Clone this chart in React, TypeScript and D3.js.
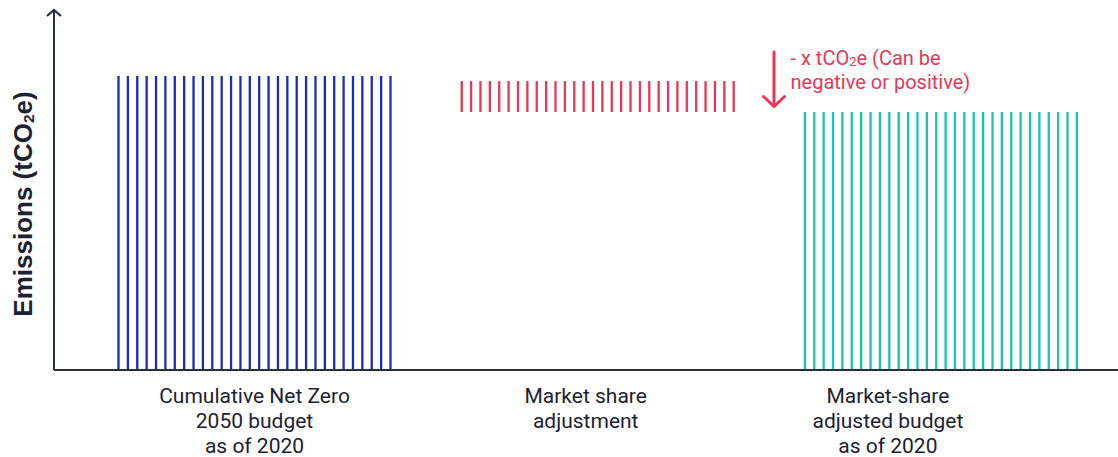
import React, { useEffect } from "react";
import * as d3 from "d3";

// ---- data ----
const categories = [
  "Cumulative Net Zero 2050 budget as of 2020",
  "Market share adjustment",
  "Market-share adjusted budget as of 2020",
];
const categoryLabelLines = [
  ["Cumulative Net Zero", "2050 budget", "as of 2020"],
  ["Market share", "adjustment"],
  ["Market-share", "adjusted budget", "as of 2020"],
];
const barBase = [0, 86, 0];
const barTop = [98, 96.3, 86];
const yAxisTitle = ["Emissions (tCO", "2", "e)"];
const annotationLine1 = ["- x tCO", "2", "e (Can be"];
const annotationLine2 = "negative or positive)";

// ---- style ----
const W = 1118;
const H = 457;
const barColors = ["#1f2bb0", "#e8375a", "#1cc4aa"];
const axisColor = "#2b3040";
const textColor = "#1c2233";
const annColor = "#e8375a";
const linesPerBar = 30;
const labelDx = [0, -12, -53];

export default function App() {
  useEffect(() => {
    document.body.style.margin = "0";
  }, []);

  const x = d3
    .scaleBand<string>()
    .domain(categories)
    .range([82.9, 1112.5])
    .paddingInner(0.2075)
    .paddingOuter(0.10375);
  const y = d3.scaleLinear().domain([0, 120]).range([370, 10]);

  const axisX = 54;
  const bw = x.bandwidth();

  return (
    <svg width={W} height={H} style={{ display: "block" }}>
      {/* bars as vertical hatch lines */}
      {categories.map((c, i) => {
        const x0 = x(c)!;
        return (
          <g key={c}>
            {d3.range(linesPerBar).map((k) => {
              const lx = x0 + (k * bw) / (linesPerBar - 1);
              return (
                <line
                  key={k}
                  x1={lx}
                  x2={lx}
                  y1={y(barTop[i])}
                  y2={y(barBase[i])}
                  stroke={barColors[i]}
                  strokeWidth={2.3}
                />
              );
            })}
          </g>
        );
      })}

      {/* axes */}
      <line x1={axisX} x2={W} y1={y(0)} y2={y(0)} stroke={axisColor} strokeWidth={2} />
      <line x1={axisX} x2={axisX} y1={y(0)} y2={y(120)} stroke={axisColor} strokeWidth={2} />
      <polyline
        points={`${axisX - 7},${y(120) + 6} ${axisX},${y(120)} ${axisX + 7},${y(120) + 6}`}
        fill="none"
        stroke={axisColor}
        strokeWidth={2.2}
      />

      {/* y axis title */}
      <text
        transform={`translate(31.5,204) rotate(-90)`}
        textAnchor="middle"
        fontFamily="'Liberation Sans', Arial, sans-serif"
        fontWeight="bold"
        fontSize={26}
        fill={textColor}
      >
        {yAxisTitle[0]}
        <tspan fontSize={15.5} dy={2}>{yAxisTitle[1]}</tspan>
        <tspan dy={-2}>{yAxisTitle[2]}</tspan>
      </text>

      {/* category labels */}
      {categories.map((c, i) => (
        <text
          key={c}
          x={x(c)! + bw / 2 + labelDx[i]}
          y={403}
          textAnchor="middle"
          fontFamily="Roboto, sans-serif"
          fontSize={21}
          fill={textColor}
        >
          {categoryLabelLines[i].map((ln, j) => (
            <tspan key={j} x={x(c)! + bw / 2 + labelDx[i]} dy={j === 0 ? 0 : 25}>
              {ln}
            </tspan>
          ))}
        </text>
      ))}

      {/* annotation arrow */}
      <line x1={774} x2={774} y1={52} y2={106} stroke={annColor} strokeWidth={3} strokeLinecap="round" />
      <polyline
        points="763.5,96.5 774,106.5 784.5,96.5"
        fill="none"
        stroke={annColor}
        strokeWidth={3}
        strokeLinecap="round"
        strokeLinejoin="round"
      />
      <text x={790.5} y={64.5} fontFamily="Roboto, sans-serif" fontSize={20} fill={annColor}>
        {annotationLine1[0]}
        <tspan fontSize={13} dy={1}>{annotationLine1[1]}</tspan>
        <tspan dy={-1}>{annotationLine1[2]}</tspan>
      </text>
      <text x={790.5} y={88.5} fontFamily="Roboto, sans-serif" fontSize={20} fill={annColor}>
        {annotationLine2}
      </text>
    </svg>
  );
}
